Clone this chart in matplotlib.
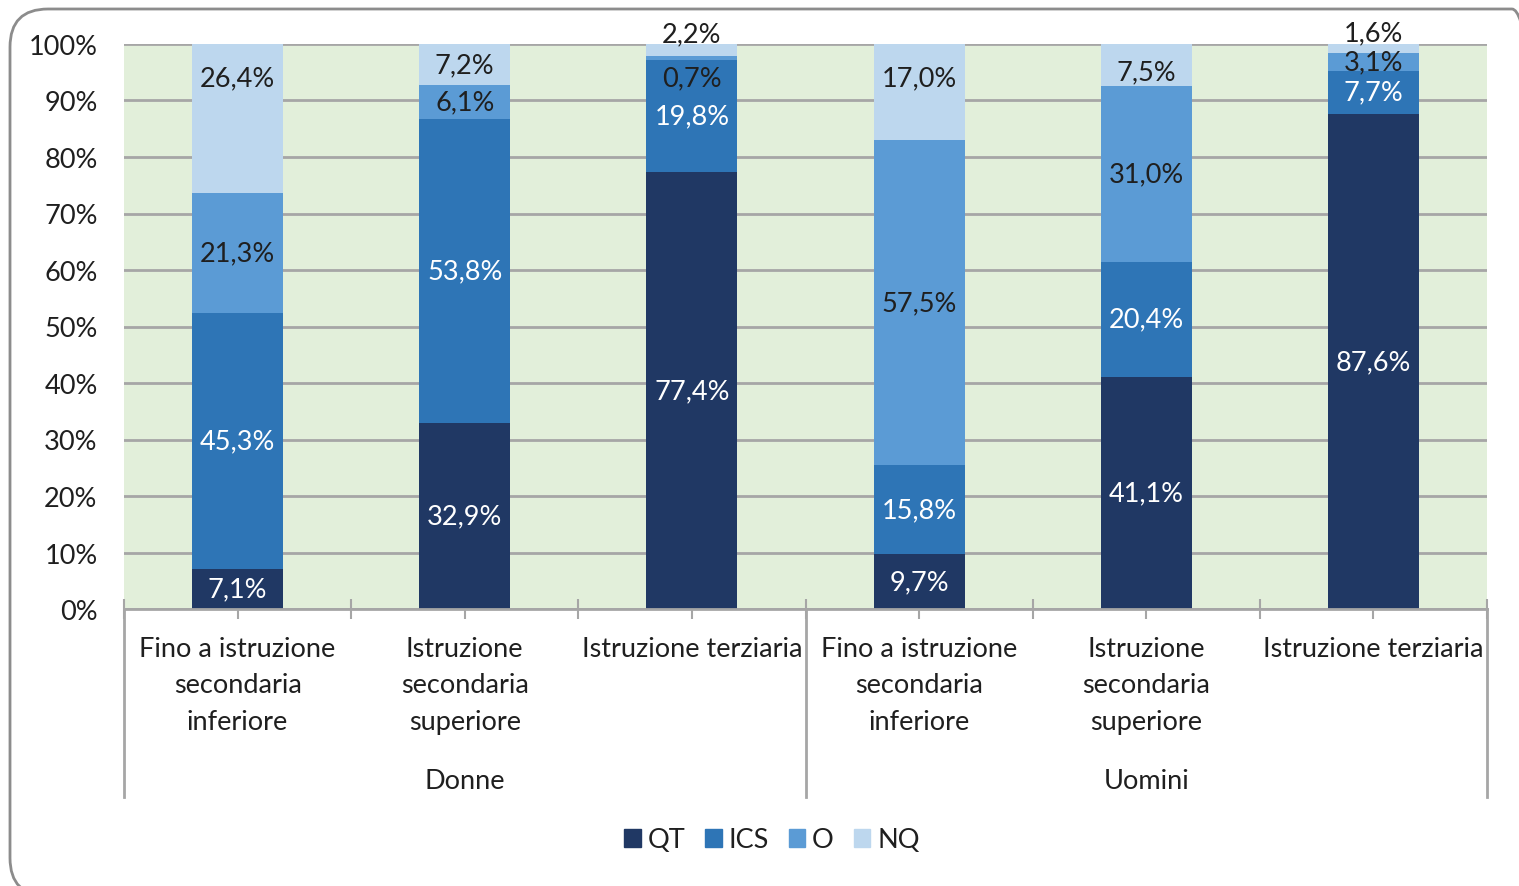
import matplotlib
matplotlib.use("Agg")
import matplotlib.pyplot as plt
import matplotlib.transforms as mtransforms
from matplotlib.patches import FancyBboxPatch, Patch
import numpy as np

plt.rcParams["font.family"] = ["Lato", "DejaVu Sans"]

# Data
categories = [
    "Fino a istruzione\nsecondaria\ninferiore",
    "Istruzione\nsecondaria\nsuperiore",
    "Istruzione terziaria",
    "Fino a istruzione\nsecondaria\ninferiore",
    "Istruzione\nsecondaria\nsuperiore",
    "Istruzione terziaria",
]
groups = ["Donne", "Uomini"]
series = ["QT", "ICS", "O", "NQ"]
qt = [7.1, 32.9, 77.4, 9.7, 41.1, 87.6]
ics = [45.3, 53.8, 19.8, 15.8, 20.4, 7.7]
o = [21.3, 6.1, 0.7, 57.5, 31.0, 3.1]
nq = [26.4, 7.2, 2.2, 17.0, 7.5, 1.6]

COLORS = ["#203864", "#2E75B6", "#5B9BD5", "#BDD7EE"]
DARK = "#1F1F1F"
TEXT_COLORS = ["white", "white", DARK, DARK]
FS = 19.5
# manual nudges of some data labels (pixels, up positive)
LABEL_NUDGE = {(0, 3): 40, (3, 3): 14, (4, 3): -7, (2, 2): -20, (2, 3): 16, (5, 3): 16}

fig = plt.figure(figsize=(15.19, 8.87), dpi=100)
ax = fig.add_axes([124 / 1519, 1 - 610 / 887, (1487 - 124) / 1519, 565 / 887])
ax.set_facecolor("#E2EFDA")

x = np.arange(len(categories))
bottom = np.zeros(len(categories))
for si, vals in enumerate([qt, ics, o, nq]):
    vals = np.array(vals)
    ax.bar(x, vals, 0.4, bottom=bottom, color=COLORS[si], zorder=3, label=series[si])
    for i, v in enumerate(vals):
        nudge = LABEL_NUDGE.get((i, si), 0) * 0.72
        ax.annotate(
            f"{v:.1f}".replace(".", ",") + "%",
            (x[i], bottom[i] + v / 2),
            xytext=(0, nudge),
            textcoords="offset points",
            ha="center",
            va="center",
            fontsize=FS,
            color=TEXT_COLORS[si],
            zorder=5,
        )
    bottom = bottom + vals

ax.set_xlim(-0.5, 5.5)
ax.set_ylim(0, 100)
ax.set_yticks(range(0, 101, 10))
ax.set_yticklabels([f"{t}%" for t in range(0, 101, 10)], fontsize=FS, color=DARK)
ax.tick_params(axis="y", length=0, pad=19)
ax.grid(axis="y", color="#A6A6A6", linewidth=2, zorder=1)

for s in ["top", "right", "left"]:
    ax.spines[s].set_visible(False)
ax.spines["bottom"].set_color("#A6A6A6")
ax.spines["bottom"].set_linewidth(2)
ax.spines["bottom"].set_zorder(4)

# ticks at bar centers and category boundaries
ax.set_xticks(np.arange(-0.5, 5.6, 0.5))
ax.set_xticklabels([])
ax.tick_params(axis="x", direction="inout", length=14, width=1.5, color="#A6A6A6")

trans = mtransforms.blended_transform_factory(ax.transData, ax.transAxes)
for i, c in enumerate(categories):
    ax.text(i, -0.047, c, transform=trans, ha="center", va="top", fontsize=FS,
            color=DARK, linespacing=1.58)
for gi, g in enumerate(groups):
    ax.text(1 + 3 * gi, -0.304, g, transform=trans, ha="center", va="center",
            fontsize=FS, color=DARK)
for xs in [-0.5, 2.5, 5.5]:
    ax.plot([xs, xs], [0, -0.333], transform=trans, color="#A6A6A6", lw=2, clip_on=False)

handles = [Patch(color=c, label=s) for c, s in zip(COLORS, series)]
fig.legend(handles=handles, loc="center", bbox_to_anchor=(772 / 1519, 1 - 841 / 887), ncol=4,
           frameon=False, fontsize=FS, handlelength=0.6, handleheight=0.6,
           handletextpad=0.25, columnspacing=0.75, labelcolor=DARK)

border = FancyBboxPatch((10, -10), 1540, 887, boxstyle="round,pad=0,rounding_size=38",
                        transform=None, facecolor="none", edgecolor="#8C8C8C", lw=2)
fig.patches.append(border)

fig.savefig("out.png", dpi=100)
